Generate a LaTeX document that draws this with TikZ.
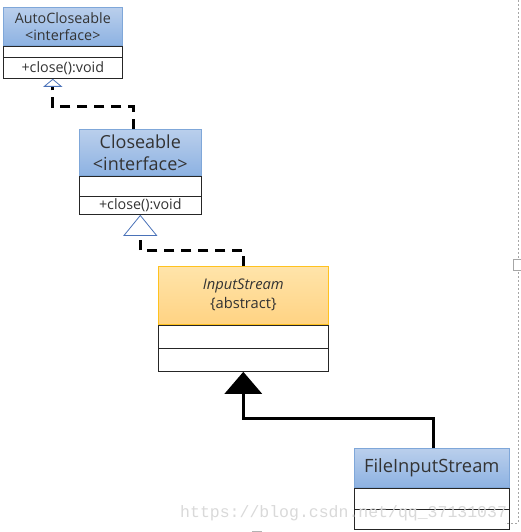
\documentclass[tikz,border=0pt]{standalone}
\usepackage{fontspec}
\setmainfont{Open Sans}
\newfontfamily\markfont{Liberation Mono}
\usetikzlibrary{positioning,arrows.meta}

\definecolor{blueTop}{HTML}{BACFEC}
\definecolor{blueBot}{HTML}{8DB2E2}
\definecolor{blueLine}{HTML}{7FA7D9}
\definecolor{orangeTop}{HTML}{FFE4AA}
\definecolor{orangeBot}{HTML}{FFD383}
\definecolor{orangeLine}{HTML}{FFC21F}
\definecolor{tipBlue}{HTML}{4A72B8}

\tikzset{
  classhead/.style={inner sep=0pt, line width=0.6pt, anchor=north west, align=center, text=black!80},
  bluehead/.style={classhead, draw=blueLine, top color=blueTop, bottom color=blueBot},
  orangehead/.style={classhead, draw=orangeLine, top color=orangeTop, bottom color=orangeBot},
  classrow/.style={draw=black!85, fill=white, line width=0.6pt, inner sep=0pt, text=black!80},
  realize/.style={line width=3pt, dash pattern=on 10pt off 7pt},
  extend/.style={line width=3pt, -{Triangle[length=22pt, width=37pt]}}
}

\begin{document}
\begin{tikzpicture}[x=1pt, y=-1pt, font=\fontsize{14.3}{17}\selectfont]
\useasboundingbox (0,0) rectangle (521,532);

% AutoCloseable
\node[bluehead, minimum width=119pt, minimum height=38pt] (autoH) at (3,7) {AutoCloseable\\<interface>};
\node[classrow, minimum width=119pt, minimum height=11pt, below=0pt of autoH] (autoA) {};
\node[classrow, minimum width=119pt, minimum height=21pt, below=0pt of autoA] (autoB) {+close():void};

% Closeable
\node[bluehead, minimum width=122pt, minimum height=46pt, font=\fontsize{18}{22}\selectfont] (closeH) at (79,129) {Closeable\\<interface>};
\node[classrow, minimum width=122pt, minimum height=20pt, below=0pt of closeH] (closeA) {};
\node[classrow, minimum width=122pt, minimum height=18pt, below=0pt of closeA] (closeB) {+close():void};

% InputStream
\node[orangehead, minimum width=170pt, minimum height=58pt, font=\fontsize{14.7}{19}\selectfont] (inH) at (158,266) {\textit{InputStream}\\\{abstract\}};
\node[classrow, minimum width=170pt, minimum height=23pt, below=0pt of inH] (inA) {};
\node[classrow, minimum width=170pt, minimum height=23pt, below=0pt of inA] (inB) {};

% FileInputStream
\node[bluehead, minimum width=155pt, minimum height=39pt, font=\fontsize{18.3}{22}\selectfont] (fileH) at (354,448) {FileInputStream};
\node[classrow, minimum width=155pt, minimum height=21pt, below=0pt of fileH] (fileA) {};
\node[classrow, minimum width=155pt, minimum height=20pt, below=0pt of fileA] (fileB) {};

% connectors
\draw[realize, -{Triangle[open, length=8pt, width=19pt, line width=0.8pt, color=tipBlue]}]
  ([xshift=-7pt]closeH.north) -- ++(0,-22) -| ([xshift=-10pt]autoB.south);
\draw[realize, -{Triangle[open, length=21pt, width=34pt, line width=0.8pt, color=tipBlue]}]
  (inH.north) -- ++(0,-16) -| (closeB.south);
\draw[extend] ([xshift=1.5pt]fileH.north) -- ++(0,-30) -| (inB.south);

% page marks
\draw[gray!70, line width=0.6pt, dash pattern=on 2pt off 2pt] (518,0) -- (518,523) -- (505,523);
\draw[gray!70, line width=0.6pt, fill=white] (513,259) rectangle (521,270);
\draw[gray!60, line width=1pt] (252,531) -- (262,531);

% watermark
\node[anchor=base west, inner sep=0pt, text=gray!30, font=\markfont\fontsize{16.5}{18}\selectfont] (mark) at (180,517) {https://blog.csdn.net/qq\_37131037};
\end{tikzpicture}
\end{document}
